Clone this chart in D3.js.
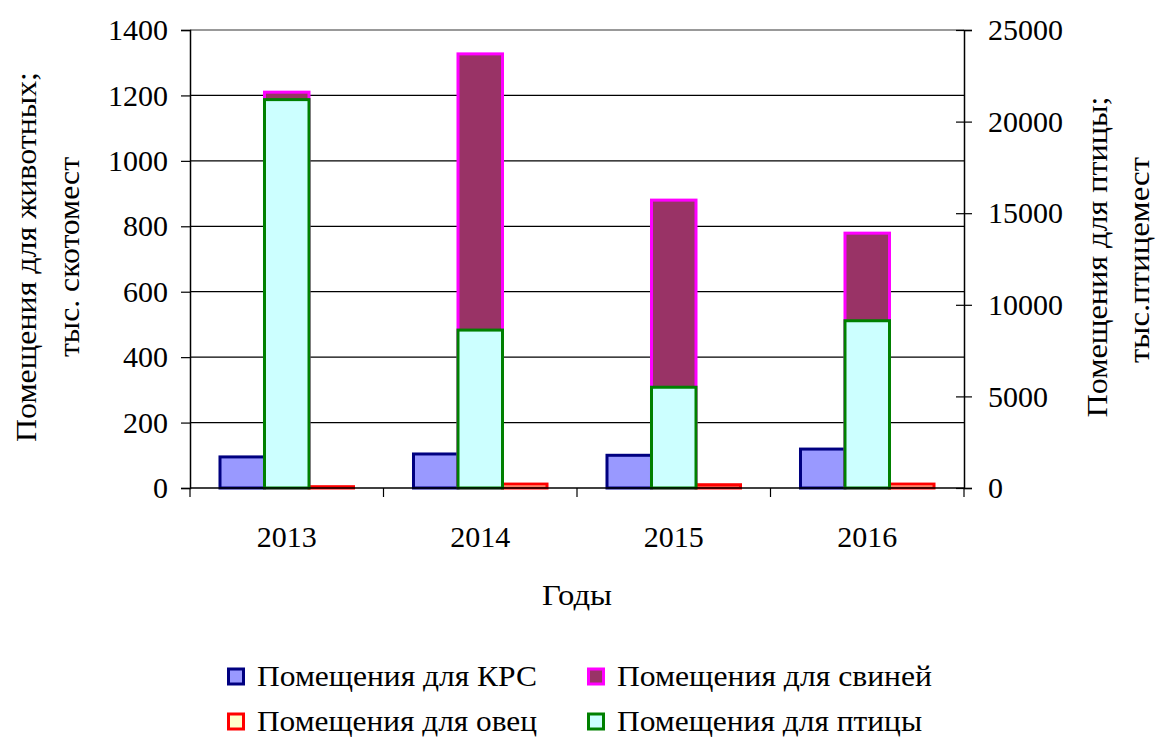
<!DOCTYPE html>
<html><head><meta charset="utf-8">
<script src="https://cdn.jsdelivr.net/npm/d3@7/dist/d3.min.js"></script>
<style>body{margin:0;background:#fff}</style>
</head><body><svg id="c" width="1156" height="738"></svg>
<script>
const years = ["2013","2014","2015","2016"];
const krs = [95, 104, 100, 119];
const pigs = [1210, 1327, 880, 779];
const sheep = [4, 12, 10, 12];
const birds = [21200, 8620, 5500, 9130];
const leftTicks = [0,200,400,600,800,1000,1200,1400];
const rightTicks = [0,5000,10000,15000,20000,25000];
const legendNames = ["Помещения для КРС","Помещения для свиней","Помещения для овец","Помещения для птицы"];

const FONT = '"Liberation Serif"';
const svg = d3.select("#c");
const L = 190, R = 964, T = 30, B = 488;
const x = d3.scaleBand().domain(years).range([L, R]).paddingInner(0).paddingOuter(0);
const yL = d3.scaleLinear().domain([0,1400]).range([B, T]);
const yR = d3.scaleLinear().domain([0,25000]).range([B, T]);
const gw = x.bandwidth();
const bw = gw * 0.23;
const pad = (gw - 3*bw)/2;

svg.append("g").selectAll("line").data(leftTicks.filter(d=>d>0)).join("line")
  .attr("x1", L).attr("x2", R).attr("y1", d=>yL(d)).attr("y2", d=>yL(d))
  .attr("stroke", d=> d===1400 ? "#999" : "#000").attr("stroke-width", d=>d===1400?2:1.2);

function bars(data, pos, scale, fill, stroke){
  svg.append("g").selectAll("rect").data(data).join("rect")
    .attr("x", (d,i)=> x(years[i]) + pad + pos*bw)
    .attr("y", d=> scale(d))
    .attr("width", bw)
    .attr("height", d=> B - scale(d))
    .attr("fill", fill).attr("stroke", stroke).attr("stroke-width", 3);
}
bars(krs, 0, yL, "#9999FF", "#000080");
bars(pigs, 1, yL, "#993366", "#FF00FF");
bars(sheep, 2, yL, "#FFFFCC", "#FF0000");
bars(birds, 1, yR, "#CCFFFF", "#008000");

const fs = 30;
const fmt = d3.format("d");
const gl = svg.append("g").attr("transform", `translate(${L},0)`)
  .call(d3.axisLeft(yL).tickValues(leftTicks).tickFormat(fmt).tickSize(9).tickPadding(13));
const gr = svg.append("g").attr("transform", `translate(${R},0)`)
  .call(d3.axisRight(yR).tickValues(rightTicks).tickFormat(fmt).tickSize(8).tickPadding(16));
gr.selectAll(".tick line").attr("x1", -8);
const gb = svg.append("g").attr("transform", `translate(0,${B})`)
  .call(d3.axisBottom(x).tickSize(0).tickPadding(38));
svg.append("g").selectAll("line").data(d3.range(years.length+1)).join("line")
  .attr("x1", i=> L + i*gw).attr("x2", i=> L + i*gw).attr("y1", B).attr("y2", B+9)
  .attr("stroke","#000").attr("stroke-width",1.2);
[gl,gr,gb].forEach(g=>{
  g.attr("font-family", FONT);
  g.select(".domain").attr("stroke","#000").attr("stroke-width",1.5);
  g.selectAll(".tick line").attr("stroke","#000").attr("stroke-width",1.2);
  g.selectAll("text").attr("font-size", fs).style("font-family", FONT).attr("fill","#000");
});
gb.select(".domain").attr("d", `M${L},0H${R}`);

svg.append("text").attr("x", 577).attr("y", 605).attr("text-anchor","middle").attr("font-size", fs).style("font-family", FONT)
  .attr("textLength", 70).attr("lengthAdjust","spacingAndGlyphs").text("Годы");
function vt(t, cx, cy, len){
  svg.append("text").attr("transform",`translate(${cx},${cy}) rotate(-90)`).attr("text-anchor","middle")
    .attr("font-size", fs).style("font-family", FONT).attr("textLength", len).attr("lengthAdjust","spacingAndGlyphs").text(t);
}
vt("Помещения для животных;", 36, 257, 370);
vt("тыс. скотомест", 79, 257, 200);
vt("Помещения для птицы;", 1107, 257, 321);
vt("тыс.птицемест", 1149, 260, 206);

const lf = ["#9999FF","#993366","#FFFFCC","#CCFFFF"];
const ls = ["#000080","#FF00FF","#FF0000","#008000"];
const lx = [227, 587, 227, 587];
const ly = [686, 686, 731, 731];
const lw = [280, 315, 280, 305];
legendNames.forEach((n,i)=>{
  svg.append("rect").attr("x", lx[i]+1.5).attr("y", ly[i]-17).attr("width", 15).attr("height", 15)
    .attr("fill", lf[i]).attr("stroke", ls[i]).attr("stroke-width", 3);
  svg.append("text").attr("x", lx[i]+30).attr("y", ly[i]).attr("font-size", fs).style("font-family", FONT)
    .attr("textLength", lw[i]).attr("lengthAdjust","spacingAndGlyphs").text(n);
});
</script></body></html>
